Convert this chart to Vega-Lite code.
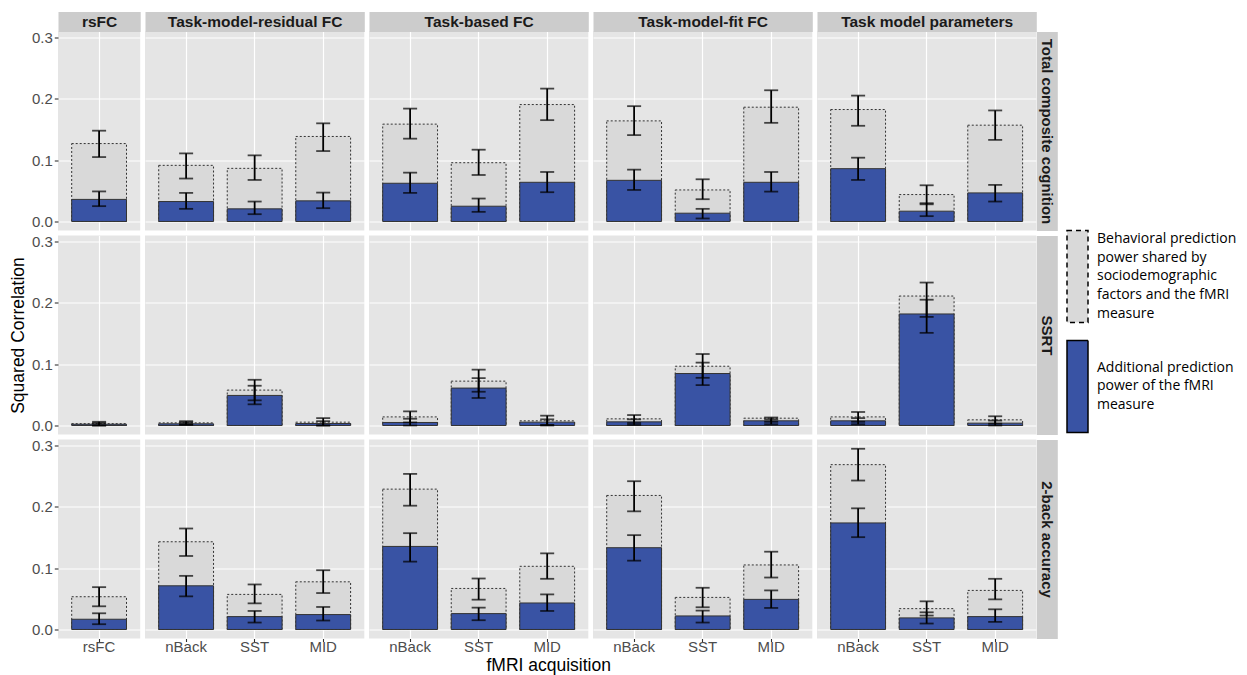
{
"$schema": "https://vega.github.io/schema/vega-lite/v6.json",
"padding": {"left": 9, "top": 14.5, "right": 2, "bottom": 2},
"datasets": {"d": [
{"feature":"rsFC","acq":"rsFC","target":"Total composite cognition","total":0.127,"totLo":0.105,"totHi":0.148,"add":0.036,"addLo":0.025,"addHi":0.049},
{"feature":"Task-model-residual FC","acq":"nBack","target":"Total composite cognition","total":0.0915,"totLo":0.070,"totHi":0.111,"add":0.0325,"addLo":0.0206,"addHi":0.0466},
{"feature":"Task-model-residual FC","acq":"SST","target":"Total composite cognition","total":0.0866,"totLo":0.0677,"totHi":0.1078,"add":0.0206,"addLo":0.0119,"addHi":0.0325},
{"feature":"Task-model-residual FC","acq":"MID","target":"Total composite cognition","total":0.1386,"totLo":0.1148,"totHi":0.160,"add":0.0336,"addLo":0.0217,"addHi":0.0471},
{"feature":"Task-based FC","acq":"nBack","target":"Total composite cognition","total":0.1587,"totLo":0.135,"totHi":0.184,"add":0.0623,"addLo":0.0466,"addHi":0.0796},
{"feature":"Task-based FC","acq":"SST","target":"Total composite cognition","total":0.0958,"totLo":0.0758,"totHi":0.117,"add":0.0249,"addLo":0.0157,"addHi":0.0374},
{"feature":"Task-based FC","acq":"MID","target":"Total composite cognition","total":0.1906,"totLo":0.1652,"totHi":0.2166,"add":0.0639,"addLo":0.0477,"addHi":0.0807},
{"feature":"Task-model-fit FC","acq":"nBack","target":"Total composite cognition","total":0.164,"totLo":0.1408,"totHi":0.188,"add":0.0671,"addLo":0.0514,"addHi":0.0845},
{"feature":"Task-model-fit FC","acq":"SST","target":"Total composite cognition","total":0.0514,"totLo":0.0363,"totHi":0.0688,"add":0.0135,"addLo":0.0049,"addHi":0.0206},
{"feature":"Task-model-fit FC","acq":"MID","target":"Total composite cognition","total":0.1863,"totLo":0.1608,"totHi":0.2139,"add":0.0639,"addLo":0.0487,"addHi":0.0807},
{"feature":"Task model parameters","acq":"nBack","target":"Total composite cognition","total":0.1825,"totLo":0.156,"totHi":0.2052,"add":0.0861,"addLo":0.0677,"addHi":0.104},
{"feature":"Task model parameters","acq":"SST","target":"Total composite cognition","total":0.0439,"totLo":0.028,"totHi":0.059,"add":0.0168,"addLo":0.0087,"addHi":0.0298},
{"feature":"Task model parameters","acq":"MID","target":"Total composite cognition","total":0.157,"totLo":0.133,"totHi":0.181,"add":0.0466,"addLo":0.0325,"addHi":0.0596},
{"feature":"rsFC","acq":"rsFC","target":"SSRT","total":0.003,"totLo":0.0,"totHi":0.006,"add":0.002,"addLo":0.0,"addHi":0.004},
{"feature":"Task-model-residual FC","acq":"nBack","target":"SSRT","total":0.0043,"totLo":0.002,"totHi":0.007,"add":0.0027,"addLo":0.001,"addHi":0.005},
{"feature":"Task-model-residual FC","acq":"SST","target":"SSRT","total":0.0577,"totLo":0.041,"totHi":0.0745,"add":0.049,"addLo":0.0345,"addHi":0.0648},
{"feature":"Task-model-residual FC","acq":"MID","target":"SSRT","total":0.0054,"totLo":0.0,"totHi":0.012,"add":0.0032,"addLo":0.0,"addHi":0.007},
{"feature":"Task-based FC","acq":"nBack","target":"SSRT","total":0.014,"totLo":0.005,"totHi":0.023,"add":0.0049,"addLo":0.0,"addHi":0.011},
{"feature":"Task-based FC","acq":"SST","target":"SSRT","total":0.0723,"totLo":0.055,"totHi":0.091,"add":0.061,"addLo":0.0448,"addHi":0.0772},
{"feature":"Task-based FC","acq":"MID","target":"SSRT","total":0.0076,"totLo":0.0,"totHi":0.016,"add":0.0054,"addLo":0.001,"addHi":0.010},
{"feature":"Task-model-fit FC","acq":"nBack","target":"SSRT","total":0.0108,"totLo":0.004,"totHi":0.017,"add":0.0059,"addLo":0.001,"addHi":0.010},
{"feature":"Task-model-fit FC","acq":"SST","target":"SSRT","total":0.0966,"totLo":0.0777,"totHi":0.1165,"add":0.0847,"addLo":0.0658,"addHi":0.1025},
{"feature":"Task-model-fit FC","acq":"MID","target":"SSRT","total":0.0119,"totLo":0.006,"totHi":0.013,"add":0.0076,"addLo":0.002,"addHi":0.010},
{"feature":"Task model parameters","acq":"nBack","target":"SSRT","total":0.014,"totLo":0.006,"totHi":0.022,"add":0.0076,"addLo":0.002,"addHi":0.012},
{"feature":"Task model parameters","acq":"SST","target":"SSRT","total":0.211,"totLo":0.177,"totHi":0.233,"add":0.1818,"addLo":0.151,"addHi":0.205},
{"feature":"Task model parameters","acq":"MID","target":"SSRT","total":0.0092,"totLo":0.003,"totHi":0.015,"add":0.0038,"addLo":0.0,"addHi":0.008},
{"feature":"rsFC","acq":"rsFC","target":"2-back accuracy","total":0.0534,"totLo":0.0378,"totHi":0.069,"add":0.0167,"addLo":0.0086,"addHi":0.0264},
{"feature":"Task-model-residual FC","acq":"nBack","target":"2-back accuracy","total":0.143,"totLo":0.1198,"totHi":0.1646,"add":0.0712,"addLo":0.054,"addHi":0.0874},
{"feature":"Task-model-residual FC","acq":"SST","target":"2-back accuracy","total":0.0572,"totLo":0.0426,"totHi":0.0734,"add":0.021,"addLo":0.0113,"addHi":0.0302},
{"feature":"Task-model-residual FC","acq":"MID","target":"2-back accuracy","total":0.0777,"totLo":0.0594,"totHi":0.0966,"add":0.0243,"addLo":0.0146,"addHi":0.0367},
{"feature":"Task-based FC","acq":"nBack","target":"2-back accuracy","total":0.2288,"totLo":0.2018,"totHi":0.2536,"add":0.1354,"addLo":0.1106,"addHi":0.157},
{"feature":"Task-based FC","acq":"SST","target":"2-back accuracy","total":0.0669,"totLo":0.0486,"totHi":0.0831,"add":0.0259,"addLo":0.0151,"addHi":0.0356},
{"feature":"Task-based FC","acq":"MID","target":"2-back accuracy","total":0.103,"totLo":0.0826,"totHi":0.1241,"add":0.0432,"addLo":0.0302,"addHi":0.0572},
{"feature":"Task-model-fit FC","acq":"nBack","target":"2-back accuracy","total":0.2185,"totLo":0.1926,"totHi":0.2417,"add":0.1333,"addLo":0.1122,"addHi":0.1538},
{"feature":"Task-model-fit FC","acq":"SST","target":"2-back accuracy","total":0.0523,"totLo":0.0362,"totHi":0.068,"add":0.0221,"addLo":0.0113,"addHi":0.0308},
{"feature":"Task-model-fit FC","acq":"MID","target":"2-back accuracy","total":0.1052,"totLo":0.0847,"totHi":0.1268,"add":0.0491,"addLo":0.0351,"addHi":0.0637},
{"feature":"Task model parameters","acq":"nBack","target":"2-back accuracy","total":0.2687,"totLo":0.2428,"totHi":0.2946,"add":0.1737,"addLo":0.1505,"addHi":0.1975},
{"feature":"Task model parameters","acq":"SST","target":"2-back accuracy","total":0.034,"totLo":0.0227,"totHi":0.0459,"add":0.0189,"addLo":0.0097,"addHi":0.028},
{"feature":"Task model parameters","acq":"MID","target":"2-back accuracy","total":0.0637,"totLo":0.0491,"totHi":0.0826,"add":0.021,"addLo":0.0124,"addHi":0.0329}
]},
"columns": 5,
"spacing": {"row": 5, "column": 4},
"bounds": "flush",
"align": "each",
"resolve": {"scale": {"fill": "shared"}, "legend": {"fill": "shared"}},
"concat": [
{"width":82.2,"height":199,"view":{"fill":"#E5E5E5","stroke":null},"data":{"name":"d"},
"transform":[{"filter":"datum.feature==='rsFC'&&datum.target==='Total composite cognition'"}],
"resolve":{"axis":{"x":"independent","y":"independent"}},
"encoding":{"x":{"field":"acq","type":"nominal","sort":["rsFC"],"axis":null}},
"layer":[
{"mark":{"type":"bar","stroke":"#333333","strokeWidth":1,"strokeDash":[2,2]},"encoding":{
"x":{"field":"acq","type":"nominal","sort":["rsFC"],"scale":{"paddingInner":0.2,"paddingOuter":0.2},"axis":{"title":null,"grid":true,"labels":false,"ticks":false}},
"y":{"field":"total","type":"quantitative","scale":{"domain":[-0.0147,0.3097],"nice":false,"zero":false},"axis":{"title":null}},
"fill":{"datum":"shared","type":"nominal","legend":{"title":null,"orient":"none","legendX":1008,"legendY":233.5,"values":["shared","additional"],"padding":0,"rowPadding":11,"symbolType":"M-1,-4.38H1V4.38H-1Z","symbolSize":441,"symbolStrokeColor":"#000000","symbolStrokeWidth":1.5,"labelExpr":"datum.value==='shared'?['Behavioral prediction','power shared by','sociodemographic','factors and the fMRI','measure']:['Additional prediction','power of the fMRI','measure']","labelFont":"Open Sans","labelFontSize":14,"labelColor":"#000000","labelLimit":0,"labelOffset":8,"labelBaseline":"middle","encode":{"symbols":{"update":{"strokeDash":{"signal":"datum.value==='shared'?[5,4]:[1,0]"},"stroke":{"value":"#000000"},"strokeWidth":{"value":1.5},"opacity":{"value":1}}},"labels":{"update":{"lineHeight":{"value":18.7},"dy":{"signal":"datum.value==='shared'?-37.4:-18.7"}}}}}}}},
{"mark":{"type":"bar","stroke":"#333333","strokeWidth":1},"encoding":{
"x":{"field":"acq","type":"nominal","sort":["rsFC"],"axis":{"orient":"top","title":"rsFC","grid":false,"titleY":0,"titleBaseline":"middle"}},
"y":{"field":"add","type":"quantitative","axis":null},
"fill":{"datum":"additional","type":"nominal"}}},
{"mark":{"type":"errorbar","ticks":true,"size":14,"thickness":1.8,"color":"#000000"},"encoding":{"y":{"field":"totLo","type":"quantitative","axis":{"orient":"left","values":[0.05,0.15,0.25],"labels":false,"ticks":false,"gridWidth":0.6,"title":null}},"y2":{"field":"totHi"}}},
{"mark":{"type":"errorbar","ticks":true,"size":14,"thickness":1.8,"color":"#000000"},"encoding":{"y":{"field":"addLo","type":"quantitative","axis":null},"y2":{"field":"addHi"}}}
]},
{"width":219.3,"height":199,"view":{"fill":"#E5E5E5","stroke":null},"data":{"name":"d"},
"transform":[{"filter":"datum.feature==='Task-model-residual FC'&&datum.target==='Total composite cognition'"}],
"resolve":{"axis":{"x":"independent","y":"independent"}},
"encoding":{"x":{"field":"acq","type":"nominal","sort":["nBack","SST","MID"],"axis":null}},
"layer":[
{"mark":{"type":"bar","stroke":"#333333","strokeWidth":1,"strokeDash":[2,2]},"encoding":{
"x":{"field":"acq","type":"nominal","sort":["nBack","SST","MID"],"scale":{"paddingInner":0.2,"paddingOuter":0.2},"axis":{"title":null,"grid":true,"labels":false,"ticks":false}},
"y":{"field":"total","type":"quantitative","scale":{"domain":[-0.0147,0.3097],"nice":false,"zero":false},"axis":{"title":null,"labels":false,"ticks":false}},
"fill":{"datum":"shared","type":"nominal"}}},
{"mark":{"type":"bar","stroke":"#333333","strokeWidth":1},"encoding":{
"x":{"field":"acq","type":"nominal","sort":["nBack","SST","MID"],"axis":{"orient":"top","title":"Task-model-residual FC","grid":false,"titleY":0,"titleBaseline":"middle"}},
"y":{"field":"add","type":"quantitative","axis":null},
"fill":{"datum":"additional","type":"nominal"}}},
{"mark":{"type":"errorbar","ticks":true,"size":14,"thickness":1.8,"color":"#000000"},"encoding":{"y":{"field":"totLo","type":"quantitative","axis":{"orient":"left","values":[0.05,0.15,0.25],"labels":false,"ticks":false,"gridWidth":0.6,"title":null}},"y2":{"field":"totHi"}}},
{"mark":{"type":"errorbar","ticks":true,"size":14,"thickness":1.8,"color":"#000000"},"encoding":{"y":{"field":"addLo","type":"quantitative","axis":null},"y2":{"field":"addHi"}}}
]},
{"width":219.3,"height":199,"view":{"fill":"#E5E5E5","stroke":null},"data":{"name":"d"},
"transform":[{"filter":"datum.feature==='Task-based FC'&&datum.target==='Total composite cognition'"}],
"resolve":{"axis":{"x":"independent","y":"independent"}},
"encoding":{"x":{"field":"acq","type":"nominal","sort":["nBack","SST","MID"],"axis":null}},
"layer":[
{"mark":{"type":"bar","stroke":"#333333","strokeWidth":1,"strokeDash":[2,2]},"encoding":{
"x":{"field":"acq","type":"nominal","sort":["nBack","SST","MID"],"scale":{"paddingInner":0.2,"paddingOuter":0.2},"axis":{"title":null,"grid":true,"labels":false,"ticks":false}},
"y":{"field":"total","type":"quantitative","scale":{"domain":[-0.0147,0.3097],"nice":false,"zero":false},"axis":{"title":null,"labels":false,"ticks":false}},
"fill":{"datum":"shared","type":"nominal"}}},
{"mark":{"type":"bar","stroke":"#333333","strokeWidth":1},"encoding":{
"x":{"field":"acq","type":"nominal","sort":["nBack","SST","MID"],"axis":{"orient":"top","title":"Task-based FC","grid":false,"titleY":0,"titleBaseline":"middle"}},
"y":{"field":"add","type":"quantitative","axis":null},
"fill":{"datum":"additional","type":"nominal"}}},
{"mark":{"type":"errorbar","ticks":true,"size":14,"thickness":1.8,"color":"#000000"},"encoding":{"y":{"field":"totLo","type":"quantitative","axis":{"orient":"left","values":[0.05,0.15,0.25],"labels":false,"ticks":false,"gridWidth":0.6,"title":null}},"y2":{"field":"totHi"}}},
{"mark":{"type":"errorbar","ticks":true,"size":14,"thickness":1.8,"color":"#000000"},"encoding":{"y":{"field":"addLo","type":"quantitative","axis":null},"y2":{"field":"addHi"}}}
]},
{"width":219.3,"height":199,"view":{"fill":"#E5E5E5","stroke":null},"data":{"name":"d"},
"transform":[{"filter":"datum.feature==='Task-model-fit FC'&&datum.target==='Total composite cognition'"}],
"resolve":{"axis":{"x":"independent","y":"independent"}},
"encoding":{"x":{"field":"acq","type":"nominal","sort":["nBack","SST","MID"],"axis":null}},
"layer":[
{"mark":{"type":"bar","stroke":"#333333","strokeWidth":1,"strokeDash":[2,2]},"encoding":{
"x":{"field":"acq","type":"nominal","sort":["nBack","SST","MID"],"scale":{"paddingInner":0.2,"paddingOuter":0.2},"axis":{"title":null,"grid":true,"labels":false,"ticks":false}},
"y":{"field":"total","type":"quantitative","scale":{"domain":[-0.0147,0.3097],"nice":false,"zero":false},"axis":{"title":null,"labels":false,"ticks":false}},
"fill":{"datum":"shared","type":"nominal"}}},
{"mark":{"type":"bar","stroke":"#333333","strokeWidth":1},"encoding":{
"x":{"field":"acq","type":"nominal","sort":["nBack","SST","MID"],"axis":{"orient":"top","title":"Task-model-fit FC","grid":false,"titleY":0,"titleBaseline":"middle"}},
"y":{"field":"add","type":"quantitative","axis":null},
"fill":{"datum":"additional","type":"nominal"}}},
{"mark":{"type":"errorbar","ticks":true,"size":14,"thickness":1.8,"color":"#000000"},"encoding":{"y":{"field":"totLo","type":"quantitative","axis":{"orient":"left","values":[0.05,0.15,0.25],"labels":false,"ticks":false,"gridWidth":0.6,"title":null}},"y2":{"field":"totHi"}}},
{"mark":{"type":"errorbar","ticks":true,"size":14,"thickness":1.8,"color":"#000000"},"encoding":{"y":{"field":"addLo","type":"quantitative","axis":null},"y2":{"field":"addHi"}}}
]},
{"width":219.3,"height":199,"view":{"fill":"#E5E5E5","stroke":null},"data":{"name":"d"},
"transform":[{"filter":"datum.feature==='Task model parameters'&&datum.target==='Total composite cognition'"}],
"resolve":{"axis":{"x":"independent","y":"independent"}},
"encoding":{"x":{"field":"acq","type":"nominal","sort":["nBack","SST","MID"],"axis":null}},
"layer":[
{"mark":{"type":"bar","stroke":"#333333","strokeWidth":1,"strokeDash":[2,2]},"encoding":{
"x":{"field":"acq","type":"nominal","sort":["nBack","SST","MID"],"scale":{"paddingInner":0.2,"paddingOuter":0.2},"axis":{"title":null,"grid":true,"labels":false,"ticks":false}},
"y":{"field":"total","type":"quantitative","scale":{"domain":[-0.0147,0.3097],"nice":false,"zero":false},"axis":{"title":null,"labels":false,"ticks":false}},
"fill":{"datum":"shared","type":"nominal"}}},
{"mark":{"type":"bar","stroke":"#333333","strokeWidth":1},"encoding":{
"x":{"field":"acq","type":"nominal","sort":["nBack","SST","MID"],"axis":{"orient":"top","title":"Task model parameters","grid":false,"titleY":0,"titleBaseline":"middle"}},
"y":{"field":"add","type":"quantitative","axis":{"orient":"right","title":"Total composite cognition","grid":false,"titleX":0,"titleAngle":90,"titleBaseline":"middle"}},
"fill":{"datum":"additional","type":"nominal"}}},
{"mark":{"type":"errorbar","ticks":true,"size":14,"thickness":1.8,"color":"#000000"},"encoding":{"y":{"field":"totLo","type":"quantitative","axis":{"orient":"left","values":[0.05,0.15,0.25],"labels":false,"ticks":false,"gridWidth":0.6,"title":null}},"y2":{"field":"totHi"}}},
{"mark":{"type":"errorbar","ticks":true,"size":14,"thickness":1.8,"color":"#000000"},"encoding":{"y":{"field":"addLo","type":"quantitative","axis":null},"y2":{"field":"addHi"}}}
]},

{"width":82.2,"height":199,"view":{"fill":"#E5E5E5","stroke":null},"data":{"name":"d"},
"transform":[{"filter":"datum.feature==='rsFC'&&datum.target==='SSRT'"}],
"resolve":{"axis":{"x":"independent","y":"independent"}},
"encoding":{"x":{"field":"acq","type":"nominal","sort":["rsFC"],"axis":null}},
"layer":[
{"mark":{"type":"bar","stroke":"#333333","strokeWidth":1,"strokeDash":[2,2]},"encoding":{
"x":{"field":"acq","type":"nominal","sort":["rsFC"],"scale":{"paddingInner":0.2,"paddingOuter":0.2},"axis":{"title":null,"grid":true,"labels":false,"ticks":false}},
"y":{"field":"total","type":"quantitative","scale":{"domain":[-0.0147,0.3097],"nice":false,"zero":false},"axis":{"title":"Squared Correlation"}},
"fill":{"datum":"shared","type":"nominal"}}},
{"mark":{"type":"bar","stroke":"#333333","strokeWidth":1},"encoding":{
"y":{"field":"add","type":"quantitative","axis":null},
"fill":{"datum":"additional","type":"nominal"}}},
{"mark":{"type":"errorbar","ticks":true,"size":14,"thickness":1.8,"color":"#000000"},"encoding":{"y":{"field":"totLo","type":"quantitative","axis":{"orient":"left","values":[0.05,0.15,0.25],"labels":false,"ticks":false,"gridWidth":0.6,"title":null}},"y2":{"field":"totHi"}}},
{"mark":{"type":"errorbar","ticks":true,"size":14,"thickness":1.8,"color":"#000000"},"encoding":{"y":{"field":"addLo","type":"quantitative","axis":null},"y2":{"field":"addHi"}}}
]},
{"width":219.3,"height":199,"view":{"fill":"#E5E5E5","stroke":null},"data":{"name":"d"},
"transform":[{"filter":"datum.feature==='Task-model-residual FC'&&datum.target==='SSRT'"}],
"resolve":{"axis":{"x":"independent","y":"independent"}},
"encoding":{"x":{"field":"acq","type":"nominal","sort":["nBack","SST","MID"],"axis":null}},
"layer":[
{"mark":{"type":"bar","stroke":"#333333","strokeWidth":1,"strokeDash":[2,2]},"encoding":{
"x":{"field":"acq","type":"nominal","sort":["nBack","SST","MID"],"scale":{"paddingInner":0.2,"paddingOuter":0.2},"axis":{"title":null,"grid":true,"labels":false,"ticks":false}},
"y":{"field":"total","type":"quantitative","scale":{"domain":[-0.0147,0.3097],"nice":false,"zero":false},"axis":{"title":null,"labels":false,"ticks":false}},
"fill":{"datum":"shared","type":"nominal"}}},
{"mark":{"type":"bar","stroke":"#333333","strokeWidth":1},"encoding":{
"y":{"field":"add","type":"quantitative","axis":null},
"fill":{"datum":"additional","type":"nominal"}}},
{"mark":{"type":"errorbar","ticks":true,"size":14,"thickness":1.8,"color":"#000000"},"encoding":{"y":{"field":"totLo","type":"quantitative","axis":{"orient":"left","values":[0.05,0.15,0.25],"labels":false,"ticks":false,"gridWidth":0.6,"title":null}},"y2":{"field":"totHi"}}},
{"mark":{"type":"errorbar","ticks":true,"size":14,"thickness":1.8,"color":"#000000"},"encoding":{"y":{"field":"addLo","type":"quantitative","axis":null},"y2":{"field":"addHi"}}}
]},
{"width":219.3,"height":199,"view":{"fill":"#E5E5E5","stroke":null},"data":{"name":"d"},
"transform":[{"filter":"datum.feature==='Task-based FC'&&datum.target==='SSRT'"}],
"resolve":{"axis":{"x":"independent","y":"independent"}},
"encoding":{"x":{"field":"acq","type":"nominal","sort":["nBack","SST","MID"],"axis":null}},
"layer":[
{"mark":{"type":"bar","stroke":"#333333","strokeWidth":1,"strokeDash":[2,2]},"encoding":{
"x":{"field":"acq","type":"nominal","sort":["nBack","SST","MID"],"scale":{"paddingInner":0.2,"paddingOuter":0.2},"axis":{"title":null,"grid":true,"labels":false,"ticks":false}},
"y":{"field":"total","type":"quantitative","scale":{"domain":[-0.0147,0.3097],"nice":false,"zero":false},"axis":{"title":null,"labels":false,"ticks":false}},
"fill":{"datum":"shared","type":"nominal"}}},
{"mark":{"type":"bar","stroke":"#333333","strokeWidth":1},"encoding":{
"y":{"field":"add","type":"quantitative","axis":null},
"fill":{"datum":"additional","type":"nominal"}}},
{"mark":{"type":"errorbar","ticks":true,"size":14,"thickness":1.8,"color":"#000000"},"encoding":{"y":{"field":"totLo","type":"quantitative","axis":{"orient":"left","values":[0.05,0.15,0.25],"labels":false,"ticks":false,"gridWidth":0.6,"title":null}},"y2":{"field":"totHi"}}},
{"mark":{"type":"errorbar","ticks":true,"size":14,"thickness":1.8,"color":"#000000"},"encoding":{"y":{"field":"addLo","type":"quantitative","axis":null},"y2":{"field":"addHi"}}}
]},
{"width":219.3,"height":199,"view":{"fill":"#E5E5E5","stroke":null},"data":{"name":"d"},
"transform":[{"filter":"datum.feature==='Task-model-fit FC'&&datum.target==='SSRT'"}],
"resolve":{"axis":{"x":"independent","y":"independent"}},
"encoding":{"x":{"field":"acq","type":"nominal","sort":["nBack","SST","MID"],"axis":null}},
"layer":[
{"mark":{"type":"bar","stroke":"#333333","strokeWidth":1,"strokeDash":[2,2]},"encoding":{
"x":{"field":"acq","type":"nominal","sort":["nBack","SST","MID"],"scale":{"paddingInner":0.2,"paddingOuter":0.2},"axis":{"title":null,"grid":true,"labels":false,"ticks":false}},
"y":{"field":"total","type":"quantitative","scale":{"domain":[-0.0147,0.3097],"nice":false,"zero":false},"axis":{"title":null,"labels":false,"ticks":false}},
"fill":{"datum":"shared","type":"nominal"}}},
{"mark":{"type":"bar","stroke":"#333333","strokeWidth":1},"encoding":{
"y":{"field":"add","type":"quantitative","axis":null},
"fill":{"datum":"additional","type":"nominal"}}},
{"mark":{"type":"errorbar","ticks":true,"size":14,"thickness":1.8,"color":"#000000"},"encoding":{"y":{"field":"totLo","type":"quantitative","axis":{"orient":"left","values":[0.05,0.15,0.25],"labels":false,"ticks":false,"gridWidth":0.6,"title":null}},"y2":{"field":"totHi"}}},
{"mark":{"type":"errorbar","ticks":true,"size":14,"thickness":1.8,"color":"#000000"},"encoding":{"y":{"field":"addLo","type":"quantitative","axis":null},"y2":{"field":"addHi"}}}
]},
{"width":219.3,"height":199,"view":{"fill":"#E5E5E5","stroke":null},"data":{"name":"d"},
"transform":[{"filter":"datum.feature==='Task model parameters'&&datum.target==='SSRT'"}],
"resolve":{"axis":{"x":"independent","y":"independent"}},
"encoding":{"x":{"field":"acq","type":"nominal","sort":["nBack","SST","MID"],"axis":null}},
"layer":[
{"mark":{"type":"bar","stroke":"#333333","strokeWidth":1,"strokeDash":[2,2]},"encoding":{
"x":{"field":"acq","type":"nominal","sort":["nBack","SST","MID"],"scale":{"paddingInner":0.2,"paddingOuter":0.2},"axis":{"title":null,"grid":true,"labels":false,"ticks":false}},
"y":{"field":"total","type":"quantitative","scale":{"domain":[-0.0147,0.3097],"nice":false,"zero":false},"axis":{"title":null,"labels":false,"ticks":false}},
"fill":{"datum":"shared","type":"nominal"}}},
{"mark":{"type":"bar","stroke":"#333333","strokeWidth":1},"encoding":{
"y":{"field":"add","type":"quantitative","axis":{"orient":"right","title":"SSRT","grid":false,"titleX":0,"titleAngle":90,"titleBaseline":"middle"}},
"fill":{"datum":"additional","type":"nominal"}}},
{"mark":{"type":"errorbar","ticks":true,"size":14,"thickness":1.8,"color":"#000000"},"encoding":{"y":{"field":"totLo","type":"quantitative","axis":{"orient":"left","values":[0.05,0.15,0.25],"labels":false,"ticks":false,"gridWidth":0.6,"title":null}},"y2":{"field":"totHi"}}},
{"mark":{"type":"errorbar","ticks":true,"size":14,"thickness":1.8,"color":"#000000"},"encoding":{"y":{"field":"addLo","type":"quantitative","axis":null},"y2":{"field":"addHi"}}}
]},

{"width":82.2,"height":199,"view":{"fill":"#E5E5E5","stroke":null},"data":{"name":"d"},
"transform":[{"filter":"datum.feature==='rsFC'&&datum.target==='2-back accuracy'"}],
"resolve":{"axis":{"x":"independent","y":"independent"}},
"encoding":{"x":{"field":"acq","type":"nominal","sort":["rsFC"],"axis":null}},
"layer":[
{"mark":{"type":"bar","stroke":"#333333","strokeWidth":1,"strokeDash":[2,2]},"encoding":{
"x":{"field":"acq","type":"nominal","sort":["rsFC"],"scale":{"paddingInner":0.2,"paddingOuter":0.2},"axis":{"title":null,"grid":true}},
"y":{"field":"total","type":"quantitative","scale":{"domain":[-0.0147,0.3097],"nice":false,"zero":false},"axis":{"title":null}},
"fill":{"datum":"shared","type":"nominal"}}},
{"mark":{"type":"bar","stroke":"#333333","strokeWidth":1},"encoding":{
"y":{"field":"add","type":"quantitative","axis":null},
"fill":{"datum":"additional","type":"nominal"}}},
{"mark":{"type":"errorbar","ticks":true,"size":14,"thickness":1.8,"color":"#000000"},"encoding":{"y":{"field":"totLo","type":"quantitative","axis":{"orient":"left","values":[0.05,0.15,0.25],"labels":false,"ticks":false,"gridWidth":0.6,"title":null}},"y2":{"field":"totHi"}}},
{"mark":{"type":"errorbar","ticks":true,"size":14,"thickness":1.8,"color":"#000000"},"encoding":{"y":{"field":"addLo","type":"quantitative","axis":null},"y2":{"field":"addHi"}}}
]},
{"width":219.3,"height":199,"view":{"fill":"#E5E5E5","stroke":null},"data":{"name":"d"},
"transform":[{"filter":"datum.feature==='Task-model-residual FC'&&datum.target==='2-back accuracy'"}],
"resolve":{"axis":{"x":"independent","y":"independent"}},
"encoding":{"x":{"field":"acq","type":"nominal","sort":["nBack","SST","MID"],"axis":null}},
"layer":[
{"mark":{"type":"bar","stroke":"#333333","strokeWidth":1,"strokeDash":[2,2]},"encoding":{
"x":{"field":"acq","type":"nominal","sort":["nBack","SST","MID"],"scale":{"paddingInner":0.2,"paddingOuter":0.2},"axis":{"title":null,"grid":true}},
"y":{"field":"total","type":"quantitative","scale":{"domain":[-0.0147,0.3097],"nice":false,"zero":false},"axis":{"title":null,"labels":false,"ticks":false}},
"fill":{"datum":"shared","type":"nominal"}}},
{"mark":{"type":"bar","stroke":"#333333","strokeWidth":1},"encoding":{
"y":{"field":"add","type":"quantitative","axis":null},
"fill":{"datum":"additional","type":"nominal"}}},
{"mark":{"type":"errorbar","ticks":true,"size":14,"thickness":1.8,"color":"#000000"},"encoding":{"y":{"field":"totLo","type":"quantitative","axis":{"orient":"left","values":[0.05,0.15,0.25],"labels":false,"ticks":false,"gridWidth":0.6,"title":null}},"y2":{"field":"totHi"}}},
{"mark":{"type":"errorbar","ticks":true,"size":14,"thickness":1.8,"color":"#000000"},"encoding":{"y":{"field":"addLo","type":"quantitative","axis":null},"y2":{"field":"addHi"}}}
]},
{"width":219.3,"height":199,"view":{"fill":"#E5E5E5","stroke":null},"data":{"name":"d"},
"transform":[{"filter":"datum.feature==='Task-based FC'&&datum.target==='2-back accuracy'"}],
"resolve":{"axis":{"x":"independent","y":"independent"}},
"encoding":{"x":{"field":"acq","type":"nominal","sort":["nBack","SST","MID"],"axis":null}},
"layer":[
{"mark":{"type":"bar","stroke":"#333333","strokeWidth":1,"strokeDash":[2,2]},"encoding":{
"x":{"field":"acq","type":"nominal","sort":["nBack","SST","MID"],"scale":{"paddingInner":0.2,"paddingOuter":0.2},"axis":{"title":"fMRI acquisition","titleX":179.2,"titleY":31.5,"titleBaseline":"alphabetic","grid":true}},
"y":{"field":"total","type":"quantitative","scale":{"domain":[-0.0147,0.3097],"nice":false,"zero":false},"axis":{"title":null,"labels":false,"ticks":false}},
"fill":{"datum":"shared","type":"nominal"}}},
{"mark":{"type":"bar","stroke":"#333333","strokeWidth":1},"encoding":{
"y":{"field":"add","type":"quantitative","axis":null},
"fill":{"datum":"additional","type":"nominal"}}},
{"mark":{"type":"errorbar","ticks":true,"size":14,"thickness":1.8,"color":"#000000"},"encoding":{"y":{"field":"totLo","type":"quantitative","axis":{"orient":"left","values":[0.05,0.15,0.25],"labels":false,"ticks":false,"gridWidth":0.6,"title":null}},"y2":{"field":"totHi"}}},
{"mark":{"type":"errorbar","ticks":true,"size":14,"thickness":1.8,"color":"#000000"},"encoding":{"y":{"field":"addLo","type":"quantitative","axis":null},"y2":{"field":"addHi"}}}
]},
{"width":219.3,"height":199,"view":{"fill":"#E5E5E5","stroke":null},"data":{"name":"d"},
"transform":[{"filter":"datum.feature==='Task-model-fit FC'&&datum.target==='2-back accuracy'"}],
"resolve":{"axis":{"x":"independent","y":"independent"}},
"encoding":{"x":{"field":"acq","type":"nominal","sort":["nBack","SST","MID"],"axis":null}},
"layer":[
{"mark":{"type":"bar","stroke":"#333333","strokeWidth":1,"strokeDash":[2,2]},"encoding":{
"x":{"field":"acq","type":"nominal","sort":["nBack","SST","MID"],"scale":{"paddingInner":0.2,"paddingOuter":0.2},"axis":{"title":null,"grid":true}},
"y":{"field":"total","type":"quantitative","scale":{"domain":[-0.0147,0.3097],"nice":false,"zero":false},"axis":{"title":null,"labels":false,"ticks":false}},
"fill":{"datum":"shared","type":"nominal"}}},
{"mark":{"type":"bar","stroke":"#333333","strokeWidth":1},"encoding":{
"y":{"field":"add","type":"quantitative","axis":null},
"fill":{"datum":"additional","type":"nominal"}}},
{"mark":{"type":"errorbar","ticks":true,"size":14,"thickness":1.8,"color":"#000000"},"encoding":{"y":{"field":"totLo","type":"quantitative","axis":{"orient":"left","values":[0.05,0.15,0.25],"labels":false,"ticks":false,"gridWidth":0.6,"title":null}},"y2":{"field":"totHi"}}},
{"mark":{"type":"errorbar","ticks":true,"size":14,"thickness":1.8,"color":"#000000"},"encoding":{"y":{"field":"addLo","type":"quantitative","axis":null},"y2":{"field":"addHi"}}}
]},
{"width":219.3,"height":199,"view":{"fill":"#E5E5E5","stroke":null},"data":{"name":"d"},
"transform":[{"filter":"datum.feature==='Task model parameters'&&datum.target==='2-back accuracy'"}],
"resolve":{"axis":{"x":"independent","y":"independent"}},
"encoding":{"x":{"field":"acq","type":"nominal","sort":["nBack","SST","MID"],"axis":null}},
"layer":[
{"mark":{"type":"bar","stroke":"#333333","strokeWidth":1,"strokeDash":[2,2]},"encoding":{
"x":{"field":"acq","type":"nominal","sort":["nBack","SST","MID"],"scale":{"paddingInner":0.2,"paddingOuter":0.2},"axis":{"title":null,"grid":true}},
"y":{"field":"total","type":"quantitative","scale":{"domain":[-0.0147,0.3097],"nice":false,"zero":false},"axis":{"title":null,"labels":false,"ticks":false}},
"fill":{"datum":"shared","type":"nominal"}}},
{"mark":{"type":"bar","stroke":"#333333","strokeWidth":1},"encoding":{
"y":{"field":"add","type":"quantitative","axis":{"orient":"right","title":"2-back accuracy","grid":false,"titleX":0,"titleAngle":90,"titleBaseline":"middle"}},
"fill":{"datum":"additional","type":"nominal"}}},
{"mark":{"type":"errorbar","ticks":true,"size":14,"thickness":1.8,"color":"#000000"},"encoding":{"y":{"field":"totLo","type":"quantitative","axis":{"orient":"left","values":[0.05,0.15,0.25],"labels":false,"ticks":false,"gridWidth":0.6,"title":null}},"y2":{"field":"totHi"}}},
{"mark":{"type":"errorbar","ticks":true,"size":14,"thickness":1.8,"color":"#000000"},"encoding":{"y":{"field":"addLo","type":"quantitative","axis":null},"y2":{"field":"addHi"}}}
]}
],
"config": {
"font": "Liberation Sans",
"view": {"stroke": null},
"range": {"category": ["#D9D9D9", "#3953A4"]},
"axis": {"domain": false, "gridColor": "#FFFFFF", "gridWidth": 1.2, "tickColor": "#333333", "tickSize": 3.7, "tickWidth": 1.1, "labelFont": "Liberation Sans", "titleFont": "Liberation Sans", "labelColor": "#4D4D4D", "labelFontSize": 15, "labelPadding": 2, "titleColor": "#000000", "titleFontWeight": "normal"},
"axisBand": {"bandPosition": 0.5},
"axisLeft": {"tickCount": 4, "titleFontSize": 17.5, "titlePadding": 4},
"axisBottom": {"titleFontSize": 17.5, "labelAngle": 0, "tickSize": 3, "labelPadding": -2},
"axisTop": {"domain": true, "domainColor": "#CCCCCC", "domainWidth": 20, "domainCap": "butt", "offset": 10, "labels": false, "ticks": false, "grid": false, "titlePadding": 0, "titleFontSize": 15.5, "titleFontWeight": "bold", "titleColor": "#1A1A1A"},
"axisRight": {"domain": true, "domainColor": "#CCCCCC", "domainWidth": 21, "domainCap": "butt", "offset": 10.5, "labels": false, "ticks": false, "grid": false, "titlePadding": 0, "titleFontSize": 15, "titleFontWeight": "bold", "titleColor": "#1A1A1A"}
}
}
